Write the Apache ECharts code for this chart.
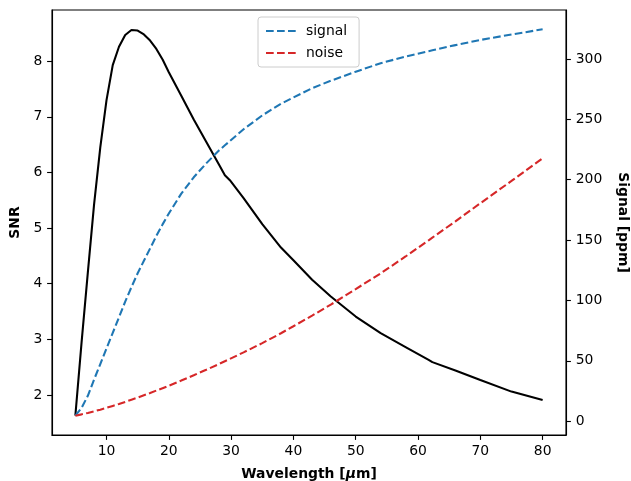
<!DOCTYPE html>
<html>
<head>
<meta charset="utf-8">
<script src="https://cdn.jsdelivr.net/npm/echarts@6/dist/echarts.min.js"></script>
<style>
html,body{margin:0;padding:0;background:#fff;}
#chart{width:631px;height:481px;}
</style>
</head>
<body>
<div id="chart"></div>
<script>
var wavelength = [5,6,7,8,9,10,11,12,13,14,15,16,17,18,19,20,22,24,26,28,29,29.8,32,35,38,40,43,46,50,54,58,61.7,62.3,66,70,75,80];
var snr = [1.63,2.95,4.2,5.42,6.45,7.3,7.93,8.26,8.47,8.56,8.55,8.48,8.37,8.22,8.03,7.8,7.38,6.95,6.55,6.15,5.95,5.86,5.54,5.07,4.65,4.42,4.07,3.77,3.41,3.11,2.86,2.63,2.59,2.44,2.27,2.06,1.91];
var signal = [4.5,11,21,34.4,47.3,60.2,73.1,86,99,111,122.5,132.8,143.1,153.4,163,172,188.5,202,213.5,224,228.5,232,241.8,253.3,262.9,268.1,275.8,282,289.5,296.5,302,306.5,307.2,311.5,315.8,320.3,324.6];
var noise = [4.5,5.6,6.8,8.1,9.5,11,12.6,14.2,15.9,17.7,19.5,21.4,23.3,25.3,27.3,29.3,33.6,38,42.5,47.2,49.6,51.5,57,64.6,72.8,78.6,87.4,96.5,109.4,122.4,136.4,149.8,152,165.5,180.5,199,217.7];
var xTicks = [10,20,30,40,50,60,70,80];
var snrTicks = [2,3,4,5,6,7,8];
var signalTicks = [0,50,100,150,200,250,300];

function pairs(xs, ys){ return xs.map(function(x,i){ return [x, ys[i]]; }); }

var FONT = 'DejaVu Sans';
var FS = 13.9;
var LW = 2.08;
var dash = [7.7, 3.3];
var SPINE = 1.11;

var chart = echarts.init(document.getElementById('chart'), null, {renderer:'canvas'});
chart.setOption({
  animation: false,
  backgroundColor: '#fff',
  textStyle: {fontFamily: FONT},
  grid: {left: 52, right: 65, top: 10, bottom: 46, outerBoundsMode: 'none', containLabel: false,
    show: true, borderColor: '#000', borderWidth: SPINE, backgroundColor: 'transparent'},
  legend: {
    data: [{name:'signal', itemStyle:{opacity:0}},{name:'noise', itemStyle:{opacity:0}}],
    orient: 'vertical',
    left: 258, top: 17,
    padding: [7, 12, 7, 7],
    itemWidth: 30, itemHeight: 14, itemGap: 8,
    backgroundColor: 'rgba(255,255,255,0.8)',
    borderColor: '#cccccc', borderWidth: 1, borderRadius: 3,
    textStyle: {fontFamily: FONT, fontSize: FS, color: '#000', padding: [0,0,0,5]}
  },
  xAxis: {
    type: 'value', min: 1.25, max: 83.75,
    name: 'Wavelength [{i|μ}m]',
    nameLocation: 'middle', nameGap: 32,
    nameTextStyle: {fontFamily: FONT, fontSize: FS, fontWeight: 'bold', color: '#000',
      rich: {i: {fontFamily: FONT, fontSize: FS, fontStyle: 'italic', color: '#000'}}},
    axisLine: {show: true, onZero: false, lineStyle: {color: '#000', width: SPINE}},
    axisTick: {show: true, length: 4.9, lineStyle: {color: '#000', width: SPINE}, customValues: xTicks},
    axisLabel: {fontFamily: FONT, fontSize: FS, color: '#000', margin: 9, customValues: xTicks},
    splitLine: {show: false}
  },
  yAxis: [{
    type: 'value', min: 1.28, max: 8.92, position: 'left',
    name: 'SNR', nameLocation: 'middle', nameGap: 28,
    nameTextStyle: {fontFamily: FONT, fontSize: FS, fontWeight: 'bold', color: '#000'},
    axisLine: {show: true, onZero: false, lineStyle: {color: '#000', width: SPINE}},
    axisTick: {show: true, length: 4.9, lineStyle: {color: '#000', width: SPINE}, customValues: snrTicks},
    axisLabel: {fontFamily: FONT, fontSize: FS, color: '#000', margin: 9.7, customValues: snrTicks},
    splitLine: {show: false}
  },{
    type: 'value', min: -11.5, max: 340.6, position: 'right',
    name: 'Signal [ppm]', nameLocation: 'middle', nameGap: 50, nameRotate: -90,
    nameTextStyle: {fontFamily: FONT, fontSize: FS, fontWeight: 'bold', color: '#000'},
    axisLine: {show: true, onZero: false, lineStyle: {color: '#000', width: SPINE}},
    axisTick: {show: true, length: 4.9, lineStyle: {color: '#000', width: SPINE}, customValues: signalTicks},
    axisLabel: {fontFamily: FONT, fontSize: FS, color: '#000', margin: 9.7, customValues: signalTicks},
    splitLine: {show: false}
  }],
  series: [{
    name: 'SNR', type: 'line', yAxisIndex: 0, showSymbol: false, symbol: 'none',
    data: pairs(wavelength, snr),
    lineStyle: {color: '#000', width: LW}, itemStyle: {color: '#000'}
  },{
    name: 'signal', type: 'line', yAxisIndex: 1, showSymbol: false, symbol: 'none',
    data: pairs(wavelength, signal),
    lineStyle: {color: '#1f77b4', width: LW, type: dash}, itemStyle: {color: '#1f77b4'}
  },{
    name: 'noise', type: 'line', yAxisIndex: 1, showSymbol: false, symbol: 'none',
    data: pairs(wavelength, noise),
    lineStyle: {color: '#d62728', width: LW, type: dash}, itemStyle: {color: '#d62728'}
  }]
});
</script>
</body>
</html>
